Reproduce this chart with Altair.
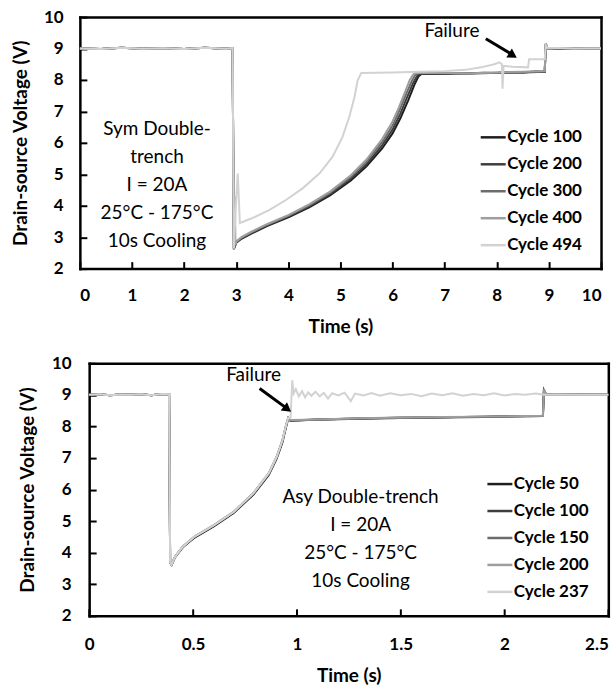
import altair as alt
import pandas as pd

FONT = "Lato"

# ---------------- Panel 1: symmetric double-trench, 0-10 s ----------------
top_labels = ["Cycle 100", "Cycle 200", "Cycle 300", "Cycle 400", "Cycle 494"]
top_colors = ["#1e1e1e", "#3e3e3e", "#6c6c6c", "#9e9e9e", "#d2d2d2"]

top_pre_t = [0.0, 0.4, 0.8, 1.2, 1.6, 2.0, 2.4, 2.8, 2.93]
top_pre_v = [9.0, 8.98, 9.02, 8.99, 9.01, 8.98, 9.02, 8.99, 9.01]

c100_t = [2.955, 3.0, 3.1, 3.3, 3.6, 4.0, 4.4, 4.8, 5.2, 5.5, 5.8, 6.0, 6.15, 6.3,
          6.42, 6.5, 6.56, 7.0, 7.25, 7.5, 7.75, 8.0, 8.25, 8.5, 8.75, 8.92, 8.94,
          8.97, 9.25, 9.5, 9.75, 10.0]
c100_v = [2.64, 2.82, 2.95, 3.12, 3.36, 3.63, 3.95, 4.33, 4.8, 5.25, 5.82, 6.3, 6.78, 7.35,
          7.85, 8.12, 8.2, 8.19, 8.22, 8.21, 8.23, 8.22, 8.25, 8.24, 8.27, 8.26, 9.15,
          9.02, 8.99, 9.01, 8.98, 9.0]

c200_t = [2.955, 3.0, 3.1, 3.3, 3.6, 4.0, 4.4, 4.8, 5.2, 5.5, 5.8, 6.0, 6.15, 6.28,
          6.4, 6.48, 6.53, 7.0, 7.5, 8.0, 8.5, 8.92, 8.94, 8.97, 9.5, 10.0]
c200_v = [2.63, 2.83, 2.97, 3.14, 3.38, 3.66, 3.98, 4.37, 4.86, 5.32, 5.92, 6.42, 6.93, 7.45,
          7.92, 8.15, 8.21, 8.19, 8.22, 8.22, 8.24, 8.26, 9.12, 9.0, 9.01, 9.0]

c300_t = [2.955, 3.0, 3.1, 3.3, 3.6, 4.0, 4.4, 4.8, 5.2, 5.5, 5.8, 6.0, 6.13, 6.26,
          6.37, 6.44, 6.49, 7.0, 7.5, 8.0, 8.5, 8.92, 8.94, 8.97, 9.5, 10.0]
c300_v = [2.62, 2.84, 2.98, 3.16, 3.4, 3.68, 4.01, 4.41, 4.92, 5.4, 6.02, 6.55, 7.02, 7.55,
          7.97, 8.17, 8.21, 8.21, 8.2, 8.23, 8.25, 8.27, 9.14, 9.01, 9.0, 9.0]

c400_t = [2.955, 2.975, 2.985, 3.0, 3.1, 3.3, 3.6, 4.0, 4.4, 4.8, 5.2, 5.5, 5.8, 6.0,
          6.12, 6.24, 6.33, 6.4, 6.45, 7.0, 7.5, 8.0, 8.5, 8.92, 8.94, 8.97, 9.5, 10.0]
c400_v = [2.6, 4.3, 2.75, 2.86, 3.0, 3.18, 3.42, 3.7, 4.04, 4.45, 4.97, 5.47, 6.12, 6.68,
          7.12, 7.62, 8.0, 8.18, 8.22, 8.22, 8.21, 8.24, 8.26, 8.28, 9.16, 9.02, 9.0, 9.01]

c494_t = [2.955, 3.0, 3.03, 3.07, 3.3, 3.64, 3.96, 4.28, 4.6, 4.85, 5.04, 5.17, 5.27,
          5.33, 5.4, 6.0, 6.5, 7.0, 7.4, 7.7, 7.95, 8.05, 8.1, 8.11, 8.13, 8.3, 8.6,
          8.62, 8.92, 8.94, 8.97, 9.5, 10.0]
c494_v = [2.65, 4.2, 5.02, 3.45, 3.6, 3.87, 4.19, 4.56, 5.03, 5.56, 6.19, 6.83, 7.46,
          7.99, 8.22, 8.24, 8.26, 8.28, 8.32, 8.4, 8.5, 8.56, 8.5, 7.72, 8.45, 8.42, 8.4,
          8.66, 8.66, 9.1, 9.02, 9.0, 9.0]

top_series = [(c100_t, c100_v), (c200_t, c200_v), (c300_t, c300_v),
              (c400_t, c400_v), (c494_t, c494_v)]

# ---------------- Panel 2: asymmetric double-trench, 0-2.5 s ----------------
bot_labels = ["Cycle 50", "Cycle 100", "Cycle 150", "Cycle 200", "Cycle 237"]
bot_colors = ["#1e1e1e", "#3e3e3e", "#6c6c6c", "#9e9e9e", "#d2d2d2"]

bot_pre_t = [0.0, 0.05, 0.1, 0.15, 0.2, 0.25, 0.3, 0.35, 0.385]
bot_pre_v = [9.0, 9.02, 8.99, 9.01, 9.0, 9.02, 8.99, 9.03, 9.02]

c50_t = [0.39, 0.397, 0.405, 0.414, 0.451, 0.508, 0.602, 0.696, 0.79, 0.865, 0.903,
         0.931, 0.95, 0.959, 0.969, 1.1, 1.3, 1.5, 1.7, 1.9, 2.1, 2.185, 2.19, 2.2,
         2.35, 2.5]
c50_v = [3.7, 3.62, 3.74, 3.86, 4.17, 4.48, 4.84, 5.26, 5.83, 6.46, 6.98, 7.5, 8.03,
         8.25, 8.18, 8.22, 8.25, 8.27, 8.29, 8.31, 8.33, 8.34, 9.15, 9.02, 9.01, 9.0]

c100b_t = [0.39, 0.397, 0.405, 0.414, 0.451, 0.508, 0.602, 0.696, 0.79, 0.865, 0.903,
           0.931, 0.95, 0.959, 0.969, 1.1, 1.3, 1.5, 1.7, 1.9, 2.1, 2.185, 2.19, 2.2,
           2.35, 2.5]
c100b_v = [3.68, 3.61, 3.73, 3.87, 4.19, 4.5, 4.86, 5.28, 5.86, 6.5, 7.02, 7.55, 8.07,
           8.26, 8.19, 8.21, 8.24, 8.28, 8.28, 8.3, 8.32, 8.33, 9.13, 9.01, 9.0, 9.0]

c150_t = [0.39, 0.397, 0.405, 0.414, 0.451, 0.508, 0.602, 0.696, 0.79, 0.865, 0.903,
          0.931, 0.95, 0.959, 0.969, 1.1, 1.3, 1.5, 1.7, 1.9, 2.1, 2.185, 2.19, 2.2,
          2.35, 2.5]
c150_v = [3.7, 3.62, 3.74, 3.87, 4.19, 4.51, 4.87, 5.29, 5.87, 6.51, 7.03, 7.56, 8.08,
          8.27, 8.19, 8.22, 8.25, 8.27, 8.29, 8.31, 8.32, 8.33, 9.14, 9.02, 9.0, 9.0]

c200b_t = [0.39, 0.397, 0.405, 0.414, 0.451, 0.508, 0.602, 0.696, 0.79, 0.865, 0.903,
           0.931, 0.95, 0.959, 0.969, 1.1, 1.3, 1.5, 1.7, 1.9, 2.1, 2.185, 2.19, 2.2,
           2.35, 2.5]
c200b_v = [3.72, 3.63, 3.75, 3.88, 4.2, 4.52, 4.88, 5.3, 5.88, 6.52, 7.04, 7.57, 8.09,
           8.27, 8.2, 8.22, 8.26, 8.28, 8.3, 8.31, 8.33, 8.34, 9.16, 9.02, 9.01, 9.0]

c237_t = [0.39, 0.397, 0.405, 0.414, 0.451, 0.508, 0.602, 0.696, 0.79, 0.865, 0.903,
          0.931, 0.95, 0.959, 0.97, 0.978, 0.985, 0.995, 1.01, 1.025, 1.04, 1.055, 1.07,
          1.09, 1.11, 1.13, 1.15, 1.17, 1.2, 1.23, 1.26, 1.28, 1.32, 1.36, 1.4, 1.45,
          1.5, 1.55, 1.6, 1.65, 1.7, 1.75, 1.8, 1.85, 1.9, 1.95, 2.0, 2.05, 2.1, 2.15,
          2.19, 2.25, 2.35, 2.5]
c237_v = [3.7, 3.62, 3.74, 3.87, 4.19, 4.51, 4.87, 5.29, 5.87, 6.51, 7.03, 7.56, 8.08,
          8.27, 8.28, 9.46, 9.05, 9.18, 8.95, 9.12, 8.92, 9.08, 8.97, 9.1, 8.95, 9.06,
          8.88, 9.05, 8.98, 9.07, 8.8, 9.04, 8.98, 9.06, 8.97, 9.05, 8.99, 9.03, 8.96,
          9.04, 8.99, 9.05, 8.97, 9.03, 8.99, 9.05, 8.98, 9.03, 9.0, 9.04, 9.0, 9.01,
          9.0, 9.0]

bot_series = [(c50_t, c50_v), (c100b_t, c100b_v), (c150_t, c150_v),
              (c200b_t, c200b_v), (c237_t, c237_v)]

# ---------------- annotations ----------------
top_note = ["Sym Double-", "trench", "I = 20A", "25°C - 175°C", "10s Cooling"]
bot_note = ["Asy Double-trench", "I = 20A", "25°C - 175°C", "10s Cooling"]

Y_MIN, Y_MAX = 2, 10
y_tick_vals = [2, 3, 4, 5, 6, 7, 8, 9, 10]
top_x_ticks = [0, 1, 2, 3, 4, 5, 6, 7, 8, 9, 10]
bot_x_ticks = [0, 0.5, 1, 1.5, 2, 2.5]

BORDER = dict(domainColor="black", domainWidth=2.5, domainCap="square")


def series_frame(labels, pre_t, pre_v, series):
    rows = []
    for lab, (ts, vs) in zip(labels, series):
        for t, v in zip(pre_t + ts, pre_v + vs):
            rows.append({"t": t, "v": v, "series": lab})
    return pd.DataFrame(rows)


def label_axis(**kw):
    base = dict(labelFont=FONT, labelFontSize=17, labelFontWeight="bold",
                labelColor="black", titleFont=FONT, titleFontSize=19,
                titleFontWeight="bold", titleColor="black", ticks=False, grid=False)
    base.update(kw)
    return alt.Axis(**base)


def panel(df, labels, colors, x_max, x_ticks, x0, plot_w, h, note, note_pos, note_lh,
          fail_pos, arrow, head, head_angle, legend_xy, pads, left_reach, flush_last):
    # the plot box runs from x0 to x0 + plot_w inside the view
    xs = alt.Scale(domain=[0, x_max], range=[x0, x0 + plot_w], nice=False, zero=False)
    ys = alt.Scale(domain=[Y_MIN, Y_MAX], nice=False, zero=False)

    x_kw = dict(values=x_ticks, title="Time (s)", format="~r", domain=True,
                labelPadding=pads[0], titlePadding=pads[1], **BORDER)
    if flush_last:
        x_kw["labelAlign"] = {"expr": f"datum.value >= {x_max} ? 'right' : 'center'"}
    x_axis = label_axis(**x_kw)
    y_axis = label_axis(values=y_tick_vals, title="Drain-source Voltage (V)",
                        domain=False, labelPadding=pads[2], titlePadding=pads[3])

    def X(axis=None):
        return alt.X("t:Q", scale=xs, axis=axis)

    def Y(axis=None):
        return alt.Y("v:Q", scale=ys, axis=axis)

    lines = alt.Chart(df).mark_line(strokeWidth=2).encode(
        x=X(x_axis), y=Y(y_axis),
        color=alt.Color("series:N", sort=labels,
                        scale=alt.Scale(domain=labels, range=colors),
                        legend=alt.Legend(title=None, orient="none",
                                          legendX=legend_xy[0], legendY=legend_xy[1],
                                          symbolType="stroke", symbolSize=625,
                                          symbolStrokeWidth=2.5, labelFont=FONT,
                                          labelFontSize=17, labelFontWeight="bold",
                                          labelColor="black", labelOffset=0,
                                          rowPadding=5, padding=0)),
    )

    anchor = pd.DataFrame({"t": [0], "v": [Y_MIN]})

    # top and right sides of the plot box
    box = alt.Chart(anchor).mark_point(opacity=0).encode(
        x=X(alt.Axis(orient="top", labels=False, ticks=False, grid=False,
                     domain=True, title=None, **BORDER)),
        y=Y(alt.Axis(orient="right", labels=False, ticks=False, grid=False,
                     domain=True, title=None, **BORDER)),
    )

    # inward tick marks: a top axis moved down to the bottom edge and a right
    # axis moved over to the left edge (which also draws the left side of the box)
    inner = alt.Chart(anchor).mark_point(opacity=0).encode(
        x=X(alt.Axis(orient="top", offset={"expr": f"{-h}"}, values=x_ticks,
                     labels=False, ticks=True, tickSize=7, tickWidth=2,
                     tickColor="black", grid=False, domain=False, title=None)),
        y=Y(alt.Axis(orient="right", offset={"expr": f"{-plot_w}"},
                     values=y_tick_vals, labels=False, ticks=True, tickSize=7,
                     tickWidth=2, tickColor="black", grid=False, domain=True,
                     title=None, **BORDER)),
    )

    note_df = pd.DataFrame({"t": [note_pos[0]], "v": [note_pos[1]],
                            "txt": ["\n".join(note)]})
    note_mark = alt.Chart(note_df).mark_text(
        font=FONT, fontSize=19, color="black", lineBreak="\n", lineHeight=note_lh,
        align="center", baseline="middle").encode(x=X(), y=Y(), text="txt:N")

    fail_df = pd.DataFrame({"t": [fail_pos[0]], "v": [fail_pos[1]], "txt": ["Failure"]})
    fail_mark = alt.Chart(fail_df).mark_text(
        font=FONT, fontSize=19, color="black", align="center",
        baseline="middle").encode(x=X(), y=Y(), text="txt:N")

    arrow_df = pd.DataFrame({"t": [arrow[0]], "v": [arrow[1]],
                             "t2": [arrow[2]], "v2": [arrow[3]]})
    arrow_mark = alt.Chart(arrow_df).mark_rule(color="black", strokeWidth=3).encode(
        x=X(), y=Y(), x2="t2:Q", y2="v2:Q")

    head_df = pd.DataFrame({"t": [head[0]], "v": [head[1]]})
    head_mark = alt.Chart(head_df).mark_point(
        shape="triangle-up", filled=True, size=110, angle=head_angle, color="black",
        opacity=1).encode(x=X(), y=Y())

    # blank text that fixes how far the panel reaches to the left of its view
    reach = alt.Chart(pd.DataFrame({"s": [" "]})).mark_text(
        opacity=0, align="left", fontSize=4).encode(
        x=alt.value(-left_reach), y=alt.value(h / 2), text="s:N")

    return alt.layer(lines, box, inner, note_mark, fail_mark, arrow_mark, head_mark,
                     reach).resolve_axis(x="independent", y="independent").properties(
        width=x0 + plot_w, height=h)


top_df = series_frame(top_labels, top_pre_t, top_pre_v, top_series)
bot_df = series_frame(bot_labels, bot_pre_t, bot_pre_v, bot_series)

top = panel(top_df, top_labels, top_colors, 10, top_x_ticks, 0, 522, 252,
            top_note, (1.48, 6.43), 27.9, (7.14, 9.57), (7.79, 9.31, 8.3, 8.8),
            (8.31, 8.78), 122, (400, 106.5), (18.7, 13.8, 16.7, 12.8), 80, False)
bottom = panel(bot_df, bot_labels, bot_colors, 2.5, bot_x_ticks, 9.3, 520, 253,
               bot_note, (1.307, 5.755), 27.8, (0.792, 9.62),
               (0.821, 9.2, 0.95, 8.58), (0.955, 8.55), 127, (406.7, 107),
               (20.3, 14, 8.7, 14.3), 40, True)

chart = alt.vconcat(top, bottom, spacing=17.8).resolve_scale(
    color="independent").properties(
    padding={"left": 0, "top": 7.5, "right": 0, "bottom": 0},
).configure_view(strokeWidth=0)

chart.save("out.html", embed_options={"renderer": "svg", "actions": False})
